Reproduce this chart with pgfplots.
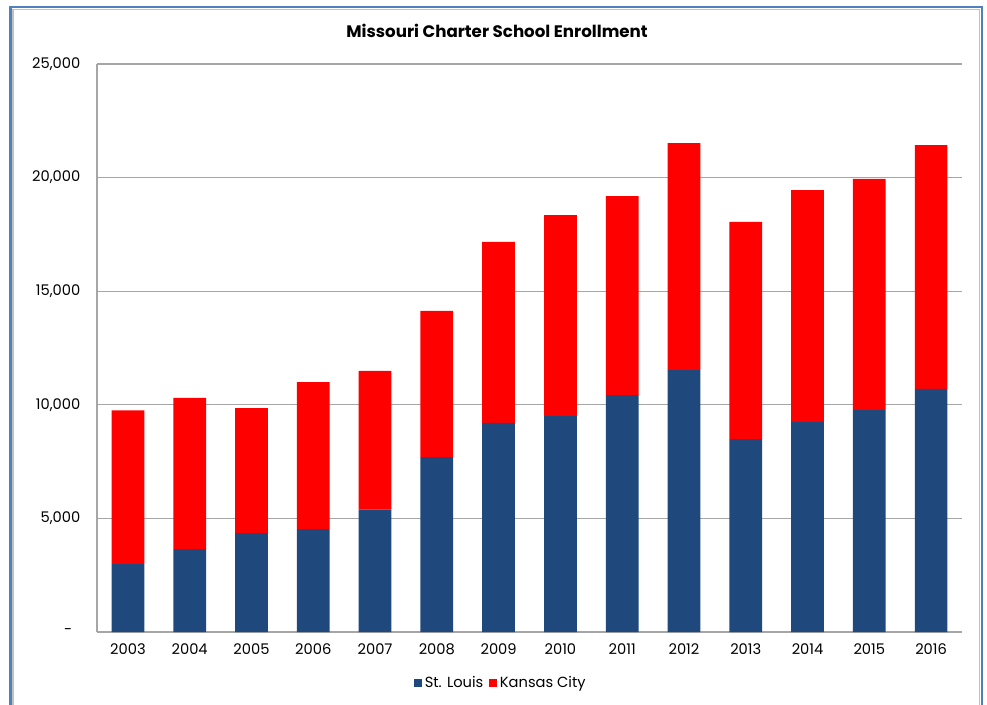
\documentclass[border=0pt]{standalone}
\usepackage{pgfplots}
\pgfplotsset{compat=1.18}
\usepackage{fontspec}
\setmainfont{Poppins}
\definecolor{slblue}{RGB}{31,73,125}
\definecolor{kcred}{RGB}{255,0,0}
\definecolor{gridgrey}{RGB}{166,166,166}
\definecolor{framebl}{RGB}{79,129,189}
\pgfplotstableread{
x year stl kc
0 2003 3000 6750
1 2004 3650 6650
2 2005 4350 5500
3 2006 4530 6470
4 2007 5400 6090
5 2008 7700 6430
6 2009 9200 7970
7 2010 9510 8840
8 2011 10430 8760
9 2012 11530 9990
10 2013 8490 9560
11 2014 9240 10210
12 2015 9770 10170
13 2016 10700 10730
}\datatable
\begin{document}
\begin{tikzpicture}[x=0.75pt,y=0.75pt]
\path[use as bounding box] (0,0) rectangle (987,704);
\draw[gridgrey!70, line width=0.8pt] (13,-10) -- (13,694.5) -- (979.5,694.5) -- (979.5,-10);
\draw[framebl, line width=1.6pt] (10.5,-10) -- (10.5,697) -- (982,697) -- (982,-10);
\node[font=\bfseries\fontsize{12.5}{14}\selectfont] at (497,673) {Missouri Charter School Enrollment};
\begin{axis}[
  at={(72.75pt,54pt)}, anchor=south west,
  scale only axis, width=648.75pt, height=426pt,
  ybar stacked, bar width=0.53,
  xmin=-0.5, xmax=13.5, ymin=0, ymax=25000,
  scaled y ticks=false,
  xtick=data,
  xticklabels={2003,2004,2005,2006,2007,2008,2009,2010,2011,2012,2013,2014,2015,2016},
  ytick={0,5000,10000,15000,20000,25000},
  yticklabels={{-\kern6pt\rule{0pt}{1pt}},{5,000},{10,000},{15,000},{20,000},{25,000}},
  /pgf/number format/assume math mode=true,
  tick label style={font=\fontsize{11}{13}\selectfont},
  xticklabel style={yshift=-5pt},
  yticklabel style={xshift=-9pt},
  major tick length=0pt,
  axis x line*=bottom, axis y line*=left,
  axis line style={gridgrey, line width=0.8pt, -},
  ymajorgrids, grid style={gridgrey, line width=0.8pt},
  legend style={at={(axis description cs:0.467,-0.0898)}, anchor=center, draw=none,
    legend columns=2, font=\fontsize{11}{13}\selectfont,
    /tikz/every even column/.append style={column sep=2pt}},
  legend image code/.code={\fill[#1] (0pt,-3.2pt) rectangle (6.4pt,3.2pt);},
]
\addplot[fill=slblue, draw=none] table[x=x, y=stl] {\datatable};
\addplot[fill=kcred, draw=none] table[x=x, y=kc] {\datatable};
\legend{St. Louis, Kansas City}
\end{axis}
\end{tikzpicture}
\end{document}
